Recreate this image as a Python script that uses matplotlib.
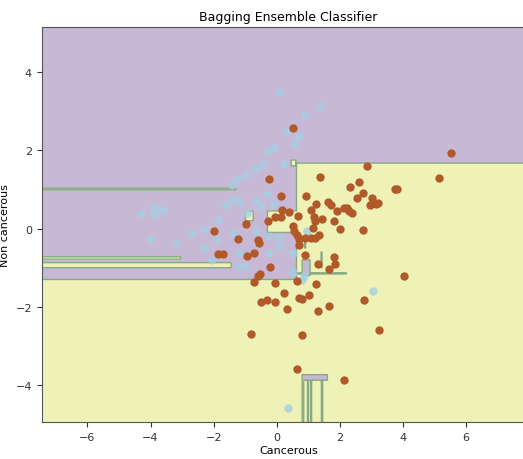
import numpy as np
import matplotlib
matplotlib.use("Agg")
import matplotlib.pyplot as plt
from matplotlib.colors import ListedColormap

# ---- data: scatter points ----
noncancer_x = [0.35, 3.05, 0.06, 1.37, 0.91, 0.69, 0.57, 0.29, -0.08, -0.29, -0.42, 0.22,
               -0.68, -0.98, -1.25, -1.41, -3.9, -3.86, -3.6, -4.29, -4.0, -3.18, -2.3,
               -1.9, -2.3, -2.05, -1.2, -1.0, -1.6, -1.4, -1.15, -0.66, -0.95, -0.3, -0.5,
               -0.08, -0.66, -0.25, 0.07, 0.95, 0.07, 0.5, -1.4, -0.26, 0.5, 0.8, 0.85,
               -1.85, -1.2, -2.7]
noncancer_y = [-4.58, -1.58, 3.5, 3.14, 2.89, 2.37, 2.15, 2.46, 2.07, 1.99, 1.66, 1.66,
               1.53, 1.36, 1.28, 1.12, 0.56, 0.37, 0.49, 0.37, -0.27, -0.37, -0.01,
               -0.3, -0.5, -0.79, -0.96, -0.96, 0.6, 0.75, 0.67, 0.7, 0.4, 0.88, 0.58,
               0.62, -0.05, -0.18, -0.2, -0.05, -0.45, -0.62, -0.1, -0.62, -1.1, -1.3, -1.2,
               0.22, -0.62, -0.1]

cancer_x = [0.50, 5.51, 5.13, 2.85, 1.36, -0.26, 2.61, 2.31, 3.75, 3.80, 0.14, 0.94, 2.72,
            2.55, 3.03, 3.21, 3.15, 2.97, 0.16, 0.40, 0.68, 1.25, 1.10, 1.61, 1.73, 1.92,
            2.12, 2.23, 2.30, 2.40, 1.17, 1.44, 1.82, 2.00, 2.72, -0.05, 0.12, -0.29, 0.51,
            0.55, 1.14, 1.20, -0.97, 0.63, 0.70, 0.88, 1.07, 1.22, 1.35, 0.72, -1.22, -0.60,
            -0.56, -1.98, -1.86, -1.70, -0.94, -0.71, 0.88, 1.82, 1.84, 1.30, 1.67, -0.20,
            -0.54, -0.59, -0.73, 4.03, -0.04, 0.63, 1.25, 0.24, 1.03, -0.51, -0.31, -0.04,
            0.70, 0.80, 0.32, 1.30, 1.67, 2.75, 3.25, -0.82, 0.81, 0.63, 2.14]
cancer_y = [2.56, 1.93, 1.29, 1.61, 1.33, 1.27, 1.18, 1.07, 1.02, 1.01, 0.84, 0.84, 0.91,
            0.79, 0.79, 0.66, 0.62, 0.60, 0.48, 0.42, 0.33, 0.63, 0.49, 0.67, 0.61, 0.44,
            0.52, 0.53, 0.46, 0.40, 0.30, 0.24, 0.19, 0.00, -0.03, 0.30, 0.29, 0.19, 0.07,
            -0.06, 0.02, 0.20, 0.12, -0.16, -0.25, -0.24, -0.23, -0.24, -0.15, -0.42, -0.27, -0.30,
            -0.37, -0.05, -0.64, -0.64, -0.70, -0.62, -0.66, -0.73, -0.90, -0.89, -1.03, -0.98,
            -1.15, -1.20, -1.36, -1.20, -1.38, -1.33, -1.41, -1.65, -1.68, -1.88, -1.83, -1.87,
            -1.78, -1.79, -2.05, -2.09, -1.97, -1.82, -2.58, -2.68, -2.71, -3.57, -3.86]

# ---- data: decision regions (x0, x1, y0, y1, predicted class), applied in order ----
region_x0 = [0.62, -8.0, -8.0, -8.0, -8.0, -0.30, -1.00, 0.00, 0.80, -0.60, 0.45,
             0.80, 0.80, 0.97, 1.07, 1.41, -1.45, 1.40, 0.88]
region_x1 = [8.5, 8.5, -3.05, -1.45, -1.30, 0.62, -0.75, 0.55, 1.05, 2.20, 0.60,
             1.60, 0.85, 1.00, 1.10, 1.45, -0.60, 1.43, 0.91]
region_y0 = [-1.30, -5.5, -0.78, -1.00, 0.99, -0.10, 0.20, -1.08, -1.20, -1.16, 1.60,
             -3.87, -5.5, -5.5, -5.5, -5.5, -1.30, -1.00, -0.50]
region_y1 = [1.67, -1.30, -0.72, -0.87, 1.03, 0.45, 0.45, -0.45, -0.80, -1.13, 1.75,
             -3.73, -3.87, -3.87, -3.87, -3.87, -1.16, -0.60, -0.20]
region_cls = [1, 1, 1, 1, 1, 1, 1, 0, 0, 0, 1,
              0, 0, 0, 0, 0, 0, 0, 0]

title = "Bagging Ensemble Classifier"
xlabel = "Cancerous"
ylabel = "Non cancerous"
xticks = [-6, -4, -2, 0, 2, 4, 6]
yticks = [-4, -2, 0, 2, 4]

# ---- figure ----
W, H = 523, 460
fig = plt.figure(figsize=(W / 100, H / 100), dpi=100)
x_lo, x_hi = -7.45, 8.2
y_lo, y_hi = -4.94, 5.14
px_per_x = 31.55
left_px, bottom_px, top_px = 41.7, 423.3, 28.3
ax = fig.add_axes([left_px / W, 1 - bottom_px / H,
                   (x_hi - x_lo) * px_per_x / W, (bottom_px - top_px) / H])

step = 0.01
gx = np.arange(-7.6, 8.3, step)
gy = np.arange(-5.1, 5.3, step)
xx, yy = np.meshgrid(gx, gy)
Z = np.zeros_like(xx)
for x0, x1, y0, y1, c in zip(region_x0, region_x1, region_y0, region_y1, region_cls):
    Z[(xx >= x0) & (xx <= x1) & (yy >= y0) & (yy <= y1)] = c

cmap = ListedColormap(["#c7b8d6", "#eef2b6"])
ax.contourf(xx, yy, Z, levels=[-0.5, 0.5, 1.5], cmap=cmap)
ax.contour(xx, yy, Z, levels=[0.5], colors=["#86a882"], linewidths=1.0)

ax.scatter(noncancer_x, noncancer_y, s=36, color="#a6cee3", alpha=0.8, linewidths=0, zorder=3)
ax.scatter(cancer_x, cancer_y, s=36, color="#b15928", linewidths=0, zorder=4)

ax.set_xlim(x_lo, x_hi)
ax.set_ylim(y_lo, y_hi)
ax.set_xticks(xticks)
ax.set_yticks(yticks)
ax.tick_params(labelsize=8, colors="#333333")
for s in ax.spines.values():
    s.set_color("#555555")
ax.set_title(title, fontsize=9, pad=5)
ax.set_xlabel(xlabel, fontsize=8, labelpad=2)
ax.set_ylabel(ylabel, fontsize=8, labelpad=4)

fig.savefig("out.png", dpi=100)
